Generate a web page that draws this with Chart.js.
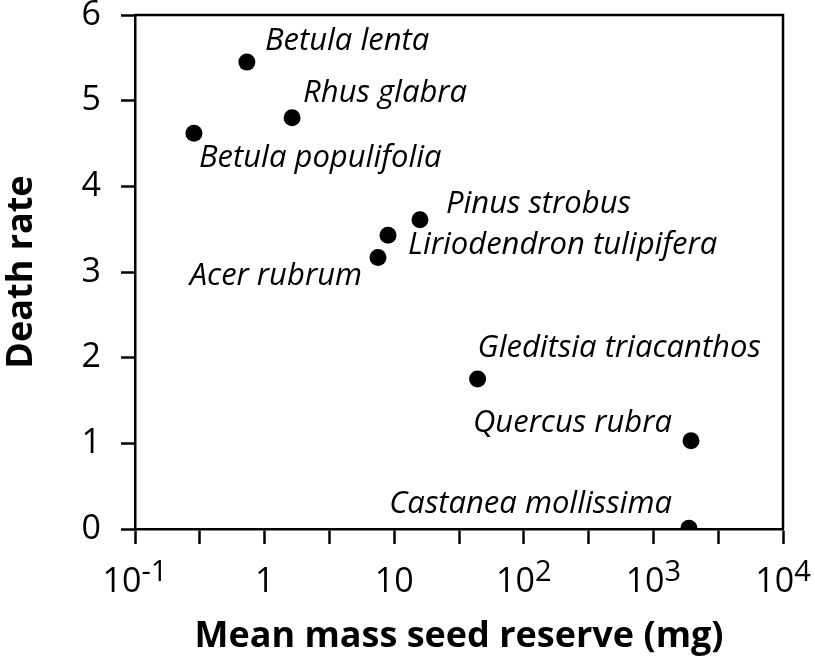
<!DOCTYPE html>
<html><head><meta charset="utf-8">
<script src="https://cdn.jsdelivr.net/npm/chart.js@4"></script>
<style>html,body{margin:0;padding:0;background:#fff}#wrap{width:815px;height:659px}</style>
</head><body><div id="wrap"><canvas id="c" width="815" height="659"></canvas></div>
<script>
// ---- data ----
const species = ['Betula lenta','Rhus glabra','Betula populifolia','Pinus strobus','Liriodendron tulipifera','Acer rubrum','Gleditsia triacanthos','Quercus rubra','Castanea mollissima'];
const seedMass = [0.73, 1.63, 0.285, 15.8, 8.96, 7.5, 44, 1950, 1880];
const deathRate = [5.45, 4.80, 4.62, 3.61, 3.43, 3.17, 1.75, 1.03, 0.01];
const xTickValues = [0.1, 1, 10, 100, 1000, 10000];
const xTickBases = ['10', '1', '10', '10', '10', '10'];
const xTickExponents = ['-1', '', '', '2', '3', '4'];
const yTickValues = [0, 1, 2, 3, 4, 5, 6];
const xTitle = 'Mean mass seed reserve (mg)';
const yTitle = 'Death rate';

// ---- styles ----
const FONT = "'Open Sans', 'Noto Sans', sans-serif";
const TICK_SIZE = 34;
const LABEL_SIZE = 31;
const TITLE_SIZE = 36;
const labelOffsets = [
  {dx: 18, dy: -12, align: 'left'},
  {dx: 11, dy: -16, align: 'left'},
  {dx: 5, dy: 34, align: 'left'},
  {dx: 26, dy: -7, align: 'left'},
  {dx: 20, dy: 19, align: 'left'},
  {dx: -16, dy: 28, align: 'right'},
  {dx: 0, dy: -22, align: 'left'},
  {dx: -19, dy: -9, align: 'right'},
  {dx: -17, dy: -15, align: 'right'}
];

const decoPlugin = {
  id: 'deco',
  afterDraw(chart) {
    const ctx = chart.ctx;
    const a = chart.chartArea;
    ctx.save();
    // frame top and right
    ctx.strokeStyle = '#000';
    ctx.lineWidth = 2.5;
    ctx.beginPath();
    ctx.moveTo(a.left, a.top);
    ctx.lineTo(a.right, a.top);
    ctx.lineTo(a.right, a.bottom);
    ctx.stroke();
    // point labels
    const meta = chart.getDatasetMeta(0);
    ctx.fillStyle = '#000';
    ctx.font = `italic ${LABEL_SIZE}px ${FONT}`;
    ctx.textBaseline = 'alphabetic';
    meta.data.forEach((pt, i) => {
      const o = labelOffsets[i];
      ctx.textAlign = o.align;
      ctx.fillText(species[i], pt.x + o.dx, pt.y + o.dy);
    });
    // x tick labels with superscripts
    const xs = chart.scales.x;
    const baseY = a.bottom + 63;
    const supSize = Math.round(TICK_SIZE * 0.85);
    xTickValues.forEach((v, i) => {
      const px = xs.getPixelForValue(v);
      ctx.font = `${TICK_SIZE}px ${FONT}`;
      const wb = ctx.measureText(xTickBases[i]).width;
      ctx.font = `${supSize}px ${FONT}`;
      const we = xTickExponents[i] ? ctx.measureText(xTickExponents[i]).width : 0;
      const left = px - (wb + we) / 2;
      ctx.textAlign = 'left';
      ctx.font = `${TICK_SIZE}px ${FONT}`;
      ctx.fillText(xTickBases[i], left, baseY);
      if (xTickExponents[i]) {
        ctx.font = `${supSize}px ${FONT}`;
        ctx.fillText(xTickExponents[i], left + wb, baseY - 11);
      }
    });
    ctx.restore();
  }
};

const halfDecades = [];
xTickValues.forEach((v, i) => {
  halfDecades.push(v);
  if (i < xTickValues.length - 1) halfDecades.push(v * Math.sqrt(10));
});

new Chart(document.getElementById('c'), {
  type: 'scatter',
  data: {
    datasets: [{
      label: 'Species',
      data: seedMass.map((m, i) => ({x: m, y: deathRate[i]})),
      backgroundColor: '#000',
      borderColor: '#000',
      pointRadius: 8.5,
      pointHoverRadius: 8.5,
      borderWidth: 0
    }]
  },
  options: {
    responsive: false,
    animation: false,
    events: [],
    layout: {padding: {top: 15, right: 32, left: 0, bottom: 0}},
    plugins: {legend: {display: false}, tooltip: {enabled: false}},
    scales: {
      x: {
        type: 'logarithmic',
        min: xTickValues[0],
        max: xTickValues[xTickValues.length - 1],
        afterBuildTicks: s => { s.ticks = halfDecades.map(v => ({value: v})); },
        afterFit: s => { s.height = 130; s.paddingLeft = 0; s.paddingRight = 0; },
        ticks: {display: false, autoSkip: false},
        grid: {display: true, drawOnChartArea: false, drawTicks: true, tickLength: 15, tickWidth: 2.5, tickColor: '#000'},
        border: {display: true, color: '#000', width: 2.5},
        title: {display: true, text: xTitle, color: '#000', font: {family: FONT, size: TITLE_SIZE, weight: 'bold'}, padding: {top: 0, bottom: 1}}
      },
      y: {
        type: 'linear',
        min: yTickValues[0],
        max: yTickValues[yTickValues.length - 1],
        afterBuildTicks: s => { s.ticks = yTickValues.map(v => ({value: v})); },
        afterFit: s => { s.width = 135; s.paddingTop = 0; s.paddingBottom = 0; },
        ticks: {color: '#000', font: {family: FONT, size: TICK_SIZE}, padding: 20, callback: v => String(v)},
        grid: {display: true, drawOnChartArea: false, drawTicks: true, tickLength: 14, tickWidth: 2.5, tickColor: '#000'},
        border: {display: true, color: '#000', width: 2.5},
        title: {display: true, text: yTitle, color: '#000', font: {family: FONT, size: TITLE_SIZE, weight: 'bold'}, padding: {top: 0, bottom: 0}}
      }
    }
  },
  plugins: [decoPlugin]
});
</script>
</body></html>
